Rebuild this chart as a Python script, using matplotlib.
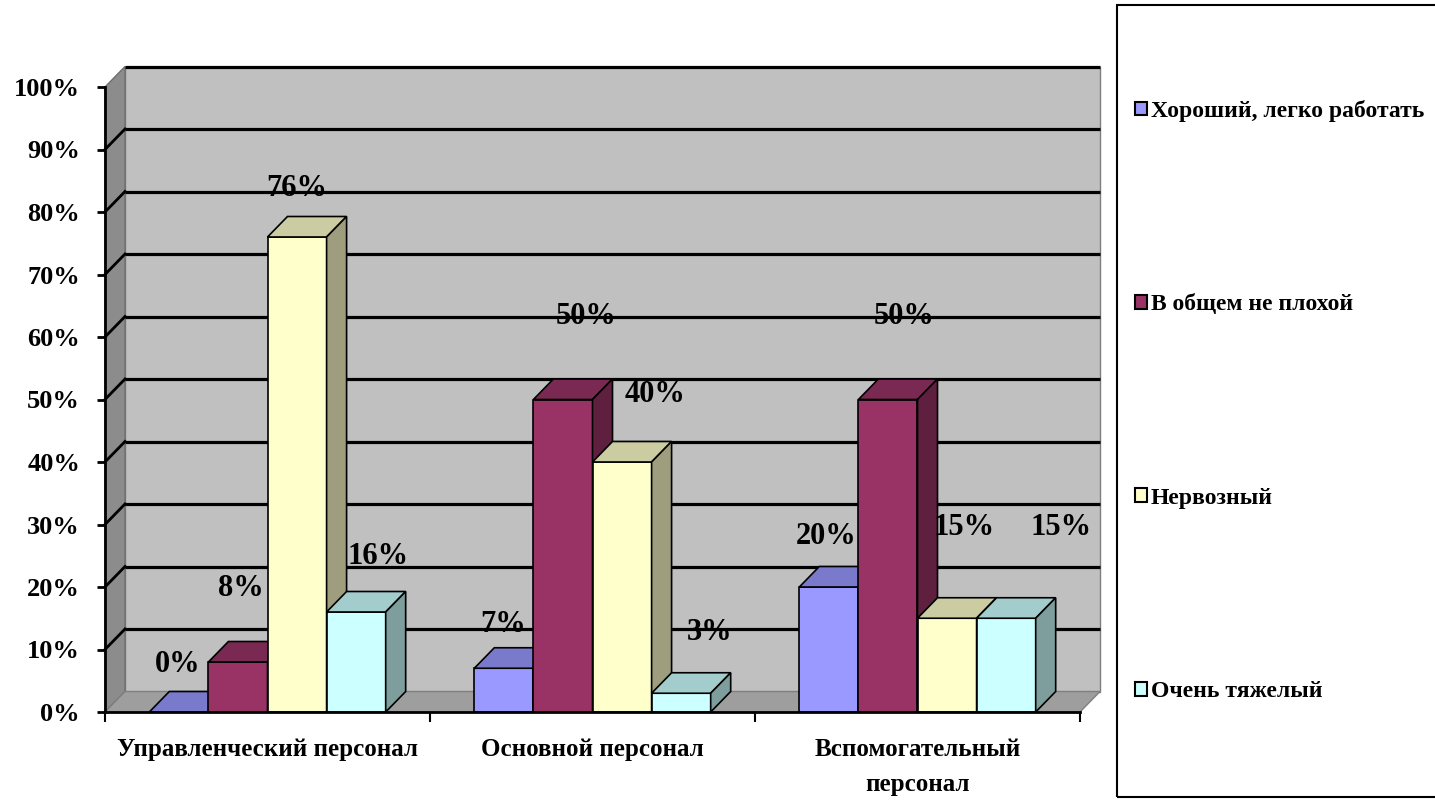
import matplotlib
matplotlib.use('Agg')
import matplotlib.pyplot as plt
from matplotlib.patches import Polygon, Rectangle, Patch
import numpy as np

# ---------------- data ----------------
categories = ['Управленческий персонал', 'Основной персонал', 'Вспомогательный\nперсонал']
series_names = ['Хороший, легко работать', 'В общем не плохой', 'Нервозный', 'Очень тяжелый']
good = [0, 7, 20]
not_bad = [8, 50, 50]
nervous = [76, 40, 15]
very_hard = [16, 3, 15]
y_ticks = [0, 10, 20, 30, 40, 50, 60, 70, 80, 90, 100]
y_tick_labels = [f'{t}%' for t in y_ticks]

# ---------------- style ----------------
colors = ['#9999FF', '#993366', '#FFFFCC', '#CCFFFF']
top_shade = 0.80
side_shade = 0.62
# value-label offsets (pixels) relative to the front-top centre of each bar
label_offsets = [
    [(-1, 47), (-1, 44), (-3, 50)],
    [(3, 73), (23, 83), (16, 83)],
    [(0, 49), (33, 68), (17, 91)],
    [(22, 55), (28, 61), (55, 91)],
]

plt.rcParams['font.family'] = ['Liberation Serif', 'DejaVu Serif']
plt.rcParams['font.weight'] = 'bold'

W, H = 1435, 808
fig = plt.figure(figsize=(W / 100, H / 100), dpi=100)
fig.patch.set_facecolor('white')

ax_left, ax_bottom, ax_w, ax_h = 105, 96, 975, 625
ax = fig.add_axes([ax_left / W, ax_bottom / H, ax_w / W, ax_h / H])
ax.patch.set_visible(False)

series = [good, not_bad, nervous, very_hard]
ncat = len(categories)
nser = len(series)
ax.set_xlim(0, ncat)
ax.set_ylim(0, 100)

# depth of the 3D effect converted into data units
depth_px_x, depth_px_y = 20, 20.5
dx = depth_px_x * ncat / ax_w
dy = depth_px_y * 100 / ax_h

# back wall, side wall, floor
ax.add_patch(Rectangle((dx, dy), ncat, 100, facecolor='#C0C0C0', edgecolor='#7F7F7F',
                       lw=1.0, clip_on=False, zorder=0.5))
ax.add_patch(Polygon([(0, 0), (0, 100), (dx, 100 + dy), (dx, dy)], closed=True,
                     facecolor='#8C8C8C', edgecolor='#6E6E6E', lw=1.0, clip_on=False, zorder=0.6))
ax.add_patch(Polygon([(0, 0), (ncat, 0), (ncat + dx, dy), (dx, dy)], closed=True,
                     facecolor='#9E9E9E', edgecolor='#7F7F7F', lw=1.0, clip_on=False, zorder=0.6))

# gridlines (back wall + side wall)
for t in y_ticks[1:]:
    ax.plot([dx, ncat + dx], [t + dy, t + dy], color='black', lw=2.3, clip_on=False,
            zorder=1, solid_capstyle='butt')
    if t < 100:
        ax.plot([0, dx], [t, t + dy], color='black', lw=2.0, clip_on=False, zorder=1)


def shade(c, f):
    r, g, b = matplotlib.colors.to_rgb(c)
    return (r * f, g * f, b * f)


bw = 1.0 / (nser + 1.5)
cat_idx = np.arange(ncat)
for s, vals in enumerate(series):
    xl = cat_idx + 0.75 * bw + s * bw
    z = 3 + s
    ax.bar(xl, vals, width=bw, align='edge', color=colors[s], edgecolor='black',
           lw=1.2, zorder=z)
    for i, (x0, v) in enumerate(zip(xl, vals)):
        ax.add_patch(Polygon([(x0, v), (x0 + dx, v + dy), (x0 + bw + dx, v + dy), (x0 + bw, v)],
                             closed=True, facecolor=shade(colors[s], top_shade),
                             edgecolor='black', lw=1.2, zorder=z, clip_on=False))
        ax.add_patch(Polygon([(x0 + bw, 0), (x0 + bw, v), (x0 + bw + dx, v + dy), (x0 + bw + dx, dy)],
                             closed=True, facecolor=shade(colors[s], side_shade),
                             edgecolor='black', lw=1.2, zorder=z, clip_on=False))
        ox, oy = label_offsets[s][i]
        ax.annotate(f'{v}%', xy=(x0 + bw / 2, v), xytext=(ox, oy),
                    textcoords='offset pixels', ha='center', va='center',
                    fontsize=22, fontweight='bold', color='black', zorder=20,
                    annotation_clip=False)

# axes / ticks
for sp in ['top', 'right']:
    ax.spines[sp].set_visible(False)
for sp in ['left', 'bottom']:
    ax.spines[sp].set_color('black')
    ax.spines[sp].set_linewidth(2.0)
    ax.spines[sp].set_zorder(15)

ax.set_yticks(y_ticks)
ax.set_yticklabels(y_tick_labels)
ax.tick_params(axis='y', direction='out', length=6, width=2, pad=12, labelsize=19)

ax.set_xticks(np.arange(ncat + 1))
ax.set_xticklabels([''] * (ncat + 1))
ax.tick_params(axis='x', which='major', direction='out', length=7, width=1.5)
ax.set_xticks(cat_idx + 0.5, minor=True)
ax.set_xticklabels(categories, minor=True, fontsize=18, fontweight='bold', linespacing=1.65)
ax.tick_params(axis='x', which='minor', length=0, pad=19)

# legend (entries) + box
handles = [Patch(facecolor=c, edgecolor='black', lw=1.5) for c in colors]
leg = fig.legend(handles, series_names, loc='center left',
                 bbox_to_anchor=(1123 / W, 1 - 401 / H), frameon=False,
                 borderpad=0, labelspacing=7.3, handlelength=0.52, handleheight=0.52,
                 handletextpad=0.15, prop={'size': 17, 'weight': 'bold'})
fig.patches.append(Rectangle((1117 / W, 11 / H), 330 / W, 792 / H, transform=fig.transFigure,
                             facecolor='none', edgecolor='black', lw=1.5, clip_on=False))

fig.savefig('out.png', dpi=100)
